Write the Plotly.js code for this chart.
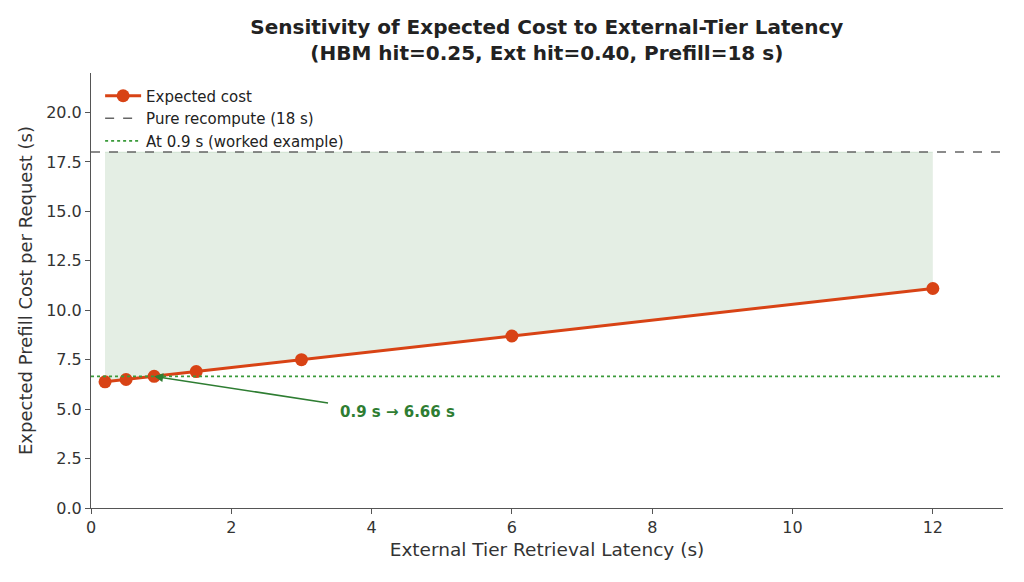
<!DOCTYPE html>
<html>
<head>
<meta charset="utf-8">
<script src="https://cdn.plot.ly/plotly-3.0.1.min.js"></script>
<style>
  html, body { margin: 0; padding: 0; background: #fff; }
  #chart { width: 1024px; height: 582px; }
</style>
</head>
<body>
<div id="chart"></div>
<script>
// latency values tested (s) and the expected prefill cost
var latency = [0.2, 0.5, 0.9, 1.5, 3, 6, 12];
var expectedCost = [6.38, 6.5, 6.66, 6.9, 7.5, 8.7, 11.1];
var recompute = [18, 18, 18, 18, 18, 18, 18];
var workedX = 0.9;
var workedY = 6.66;
var recomputeCost = 18;

var orange = '#d84315';
var green = '#2e7d32';
var font = 'DejaVu Sans, sans-serif';

var traces = [
  // upper edge for the shaded gap
  {
    x: latency, y: recompute, mode: 'lines',
    line: { width: 0.8, color: 'rgba(46,125,50,0.15)' },
    showlegend: false, hoverinfo: 'skip'
  },
  {
    x: latency, y: expectedCost, mode: 'lines',
    line: { width: 0 }, fill: 'tonexty', fillcolor: 'rgba(46,125,50,0.13)',
    showlegend: false, hoverinfo: 'skip'
  },
  {
    x: latency, y: expectedCost, mode: 'lines+markers', name: 'Expected cost',
    line: { color: orange, width: 3 },
    marker: { color: orange, size: 13 }
  },
  {
    x: [0, 13], y: [recomputeCost, recomputeCost], mode: 'lines', name: 'Pure recompute (18 s)',
    line: { color: '#666666', width: 1.5, dash: 'dash' }
  },
  {
    x: [0, 13], y: [workedY, workedY], mode: 'lines', name: 'At 0.9 s (worked example)',
    line: { color: '#3a9a3a', width: 1.8, dash: 'dot' }
  }
];

var layout = {
  width: 1024, height: 582,
  paper_bgcolor: '#ffffff', plot_bgcolor: '#ffffff',
  font: { family: font, color: '#333333', size: 14 },
  margin: { l: 91, r: 21, t: 73, b: 74 },
  title: {
    text: '<b>Sensitivity of Expected Cost to External-Tier Latency<br>(HBM hit=0.25, Ext hit=0.40, Prefill=18 s)</b>',
    font: { family: font, size: 20, color: '#222222' },
    x: 0.534, xanchor: 'center', yref: 'container', y: 0.941, yanchor: 'top'
  },
  xaxis: {
    range: [0, 13], tickvals: [0, 2, 4, 6, 8, 10, 12],
    showgrid: false, zeroline: false,
    showline: true, linecolor: '#555555', linewidth: 1,
    ticks: 'outside', ticklen: 5, tickcolor: '#555555',
    tickfont: { size: 16, color: '#333333' },
    title: { text: 'External Tier Retrieval Latency (s)', font: { size: 18.5, color: '#333333' }, standoff: 6 }
  },
  yaxis: {
    range: [0, 22], tickvals: [0, 2.5, 5, 7.5, 10, 12.5, 15, 17.5, 20], tickformat: '.1f',
    showgrid: false, zeroline: false,
    showline: true, linecolor: '#555555', linewidth: 1,
    ticks: 'outside', ticklen: 5, tickcolor: '#555555',
    tickfont: { size: 16, color: '#333333' },
    title: { text: 'Expected Prefill Cost per Request (s)', font: { size: 18, color: '#333333' }, standoff: 8 }
  },
  legend: {
    x: 0.01, y: 0.985, xanchor: 'left', yanchor: 'top', traceorder: 'normal',
    bgcolor: 'rgba(255,255,255,0)', font: { size: 15, color: '#222222' },
    itemwidth: 36, tracegroupgap: 0
  },
  annotations: [
    {
      x: workedX, y: workedY, xref: 'x', yref: 'y',
      ax: 3.4, ay: 5.3, axref: 'x', ayref: 'y',
      text: '', showarrow: true, arrowhead: 2, arrowsize: 1.2,
      arrowwidth: 1.5, arrowcolor: green
    },
    {
      x: 3.52, y: 4.86, xref: 'x', yref: 'y', xanchor: 'left', yanchor: 'middle',
      text: '<b>0.9 s → 6.66 s</b>', showarrow: false,
      font: { family: font, size: 15, color: green }
    }
  ],
  showlegend: true
};

Plotly.newPlot('chart', traces, layout, { displayModeBar: false, staticPlot: true });
</script>
</body>
</html>
